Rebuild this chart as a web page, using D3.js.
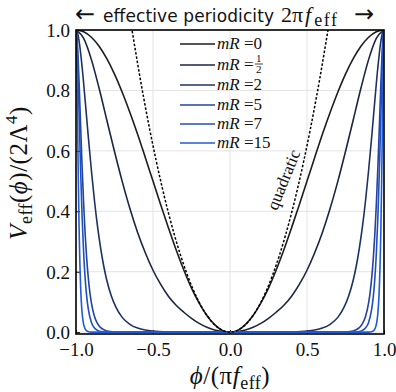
<!DOCTYPE html>
<html>
<head>
<meta charset="utf-8">
<script src="https://cdn.jsdelivr.net/npm/d3@7"></script>
<style>
body { margin: 0; background: #fff; }
svg { display: block; }
</style>
</head>
<body>
<div id="chart"></div>
<script>
// ticks
var xTicks = [-1.0, -0.5, 0.0, 0.5, 1.0];
var yTicks = [0.0, 0.2, 0.4, 0.6, 0.8, 1.0];

// legend entries, in drawing order
var mRNames = ["0", "1/2", "2", "5", "7", "15"];
var lineColors = ["#1c1c22", "#1c2642", "#1e3262", "#2244a0", "#214fba", "#1f5ad8"];

// phi/(pi f_eff) and V_eff/(2 Lambda^4)
var phi_mR0 = [-1, -0.95, -0.9, -0.85, -0.8, -0.75, -0.7, -0.65, -0.6, -0.55, -0.5, -0.45, -0.4, -0.35, -0.3, -0.25, -0.2, -0.15, -0.1, -0.05,
	0, 0.05, 0.1, 0.15, 0.2, 0.25, 0.3, 0.35, 0.4, 0.45, 0.5, 0.55, 0.6, 0.65, 0.7, 0.75, 0.8, 0.85, 0.9, 0.95, 1];
var V_mR0 = [1, 0.994, 0.976, 0.946, 0.905, 0.854, 0.794, 0.727, 0.655, 0.578, 0.5, 0.422, 0.346, 0.273, 0.206, 0.146, 0.096, 0.055, 0.025, 0.006,
	0, 0.006, 0.025, 0.055, 0.096, 0.146, 0.206, 0.273, 0.346, 0.422, 0.5, 0.578, 0.655, 0.727, 0.794, 0.854, 0.905, 0.946, 0.976, 0.994, 1];

var phi_mR05 = [-1, -0.95, -0.9, -0.85, -0.8, -0.75, -0.7, -0.65, -0.6, -0.55, -0.5, -0.45, -0.4, -0.35, -0.3, -0.25, -0.2, -0.15, -0.1, -0.05,
	0, 0.05, 0.1, 0.15, 0.2, 0.25, 0.3, 0.35, 0.4, 0.45, 0.5, 0.55, 0.6, 0.65, 0.7, 0.75, 0.8, 0.85, 0.9, 0.95, 1];
var V_mR05 = [1, 0.972, 0.902, 0.807, 0.702, 0.598, 0.499, 0.409, 0.330, 0.263, 0.205, 0.158, 0.119, 0.089, 0.066, 0.046, 0.029, 0.016, 0.007, 0.002,
	0, 0.002, 0.007, 0.016, 0.029, 0.046, 0.066, 0.089, 0.119, 0.158, 0.205, 0.263, 0.330, 0.409, 0.499, 0.598, 0.702, 0.807, 0.902, 0.972, 1];

var phi_mR2 = [-1, -0.99, -0.98, -0.96, -0.94, -0.92, -0.9, -0.88, -0.86, -0.84, -0.82, -0.8, -0.77, -0.74, -0.7, -0.65, -0.6, -0.55, -0.5, -0.4, -0.3,
	0, 0.3, 0.4, 0.5, 0.55, 0.6, 0.65, 0.7, 0.74, 0.77, 0.8, 0.82, 0.84, 0.86, 0.88, 0.9, 0.92, 0.94, 0.96, 0.98, 0.99, 1];
var V_mR2 = [1, 0.990, 0.964, 0.876, 0.764, 0.646, 0.535, 0.435, 0.349, 0.278, 0.219, 0.172, 0.119, 0.082, 0.049, 0.026, 0.0135, 0.0071, 0.0037, 0.001, 0.0003,
	0, 0.0003, 0.001, 0.0037, 0.0071, 0.0135, 0.026, 0.049, 0.082, 0.119, 0.172, 0.219, 0.278, 0.349, 0.435, 0.535, 0.646, 0.764, 0.876, 0.964, 0.990, 1];

var phi_mR5 = [-1, -0.995, -0.99, -0.98, -0.97, -0.96, -0.95, -0.94, -0.93, -0.92, -0.91, -0.9, -0.88, -0.86, -0.84, -0.8, -0.75, -0.7,
	0, 0.7, 0.75, 0.8, 0.84, 0.86, 0.88, 0.9, 0.91, 0.92, 0.93, 0.94, 0.95, 0.96, 0.97, 0.98, 0.99, 0.995, 1];
var V_mR5 = [1, 0.985, 0.947, 0.827, 0.682, 0.543, 0.421, 0.320, 0.240, 0.179, 0.132, 0.097, 0.052, 0.028, 0.015, 0.004, 0.0008, 0.0002,
	0, 0.0002, 0.0008, 0.004, 0.015, 0.028, 0.052, 0.097, 0.132, 0.179, 0.240, 0.320, 0.421, 0.543, 0.682, 0.827, 0.947, 0.985, 1];

var phi_mR7 = [-1, -0.995, -0.99, -0.98, -0.97, -0.96, -0.95, -0.94, -0.93, -0.92, -0.9, -0.88, -0.86, -0.83, -0.8,
	0, 0.8, 0.83, 0.86, 0.88, 0.9, 0.92, 0.93, 0.94, 0.95, 0.96, 0.97, 0.98, 0.99, 0.995, 1];
var V_mR7 = [1, 0.974, 0.910, 0.726, 0.536, 0.378, 0.259, 0.174, 0.115, 0.076, 0.032, 0.014, 0.006, 0.0016, 0.0005,
	0, 0.0005, 0.0016, 0.006, 0.014, 0.032, 0.076, 0.115, 0.174, 0.259, 0.378, 0.536, 0.726, 0.910, 0.974, 1];

var phi_mR15 = [-1, -0.995, -0.99, -0.985, -0.98, -0.975, -0.97, -0.965, -0.96, -0.955, -0.95, -0.94, -0.93, -0.92, -0.9,
	0, 0.9, 0.92, 0.93, 0.94, 0.95, 0.955, 0.96, 0.965, 0.97, 0.975, 0.98, 0.985, 0.99, 0.995, 1];
var V_mR15 = [1, 0.901, 0.703, 0.506, 0.347, 0.231, 0.151, 0.097, 0.062, 0.040, 0.025, 0.010, 0.004, 0.0016, 0.0003,
	0, 0.0003, 0.0016, 0.004, 0.010, 0.025, 0.040, 0.062, 0.097, 0.151, 0.231, 0.347, 0.506, 0.703, 0.901, 1];

// dotted quadratic approximation
var phi_quad = [-0.64, -0.56, -0.48, -0.4, -0.32, -0.24, -0.16, -0.08, 0, 0.08, 0.16, 0.24, 0.32, 0.4, 0.48, 0.56, 0.64];
var V_quad = [1.011, 0.774, 0.569, 0.395, 0.253, 0.142, 0.063, 0.016, 0, 0.016, 0.063, 0.142, 0.253, 0.395, 0.569, 0.774, 1.011];

var curves = [
	[phi_mR0, V_mR0],
	[phi_mR05, V_mR05],
	[phi_mR2, V_mR2],
	[phi_mR5, V_mR5],
	[phi_mR7, V_mR7],
	[phi_mR15, V_mR15]
];

var w = 396;
var h = 392;
var plotL = 76, plotR = 384, plotT = 30, plotB = 334;

var xScale = d3.scaleLinear().domain([-1, 1]).range([plotL, plotR]);
var yScale = d3.scaleLinear().domain([-0.006, 1]).range([plotB, plotT]);

var serif = "'Liberation Serif', 'DejaVu Serif', serif";
var sans = "'DejaVu Sans', sans-serif";

var svg = d3.select("#chart")
	.append("svg")
	.attr("width", w)
	.attr("height", h);

svg.append("defs").append("clipPath")
	.attr("id", "plotclip")
	.append("rect")
	.attr("x", plotL)
	.attr("y", plotT)
	.attr("width", plotR - plotL)
	.attr("height", plotB - plotT);

// grid
var grid = svg.append("g").attr("id", "grid");
grid.selectAll("line.gx")
	.data(xTicks)
	.enter().append("line")
	.attr("class", "gx")
	.attr("x1", function (d) { return xScale(d); })
	.attr("x2", function (d) { return xScale(d); })
	.attr("y1", plotT)
	.attr("y2", plotB)
	.attr("stroke", "#e3e3e3")
	.attr("stroke-width", 1);
grid.selectAll("line.gy")
	.data(yTicks)
	.enter().append("line")
	.attr("class", "gy")
	.attr("x1", plotL)
	.attr("x2", plotR)
	.attr("y1", function (d) { return yScale(d); })
	.attr("y2", function (d) { return yScale(d); })
	.attr("stroke", "#e3e3e3")
	.attr("stroke-width", 1);

// axes, ticks pointing inward
var xAxis = d3.axisBottom(xScale)
	.tickValues(xTicks)
	.tickSize(-4)
	.tickFormat(function (d) { return d3.format(".1f")(d).replace("-", "\u2212"); });
var yAxis = d3.axisLeft(yScale)
	.tickValues(yTicks)
	.tickSize(-4)
	.tickFormat(d3.format(".1f"));

var gx = svg.append("g")
	.attr("transform", "translate(0," + plotB + ")")
	.call(xAxis);
gx.select(".domain").remove();
gx.selectAll("text")
	.attr("y", 22)
	.attr("dy", 0)
	.attr("font-family", serif)
	.attr("font-size", 19)
	.attr("fill", "#111");

var gy = svg.append("g")
	.attr("transform", "translate(" + plotL + ",0)")
	.call(yAxis);
gy.select(".domain").remove();
gy.selectAll("text")
	.attr("x", -6)
	.attr("dy", "0.34em")
	.attr("font-family", serif)
	.attr("font-size", 19)
	.attr("fill", "#111");
svg.selectAll(".tick line").attr("stroke", "#000").attr("stroke-width", 1);

// curves
var line = d3.line()
	.x(function (d) { return xScale(d[0]); })
	.y(function (d) { return yScale(d[1]); })
	.curve(d3.curveMonotoneX);

var plot = svg.append("g").attr("clip-path", "url(#plotclip)");

plot.selectAll("path.curve")
	.data(curves)
	.enter().append("path")
	.attr("class", "curve")
	.attr("d", function (c) { return line(d3.zip(c[0], c[1])); })
	.attr("fill", "none")
	.attr("stroke", function (c, i) { return lineColors[i]; })
	.attr("stroke-width", 1.6);

plot.append("path")
	.attr("d", line(d3.zip(phi_quad, V_quad)))
	.attr("fill", "none")
	.attr("stroke", "#000")
	.attr("stroke-width", 1.5)
	.attr("stroke-dasharray", "2.5,1.8");

svg.append("text")
	.attr("transform", "translate(284,180) rotate(-68)")
	.attr("text-anchor", "middle")
	.attr("dy", "0.3em")
	.attr("font-family", serif)
	.attr("font-size", 17)
	.attr("fill", "#111")
	.text("quadratic");

// frame
svg.append("rect")
	.attr("x", plotL)
	.attr("y", plotT)
	.attr("width", plotR - plotL)
	.attr("height", plotB - plotT)
	.attr("fill", "none")
	.attr("stroke", "#000")
	.attr("stroke-width", 1.6);

// legend
var legendY = [44, 65, 85, 105, 124, 143];
var legend = svg.append("g").attr("id", "legend");
mRNames.forEach(function (name, i) {
	legend.append("line")
		.attr("x1", 180).attr("x2", 215)
		.attr("y1", legendY[i]).attr("y2", legendY[i])
		.attr("stroke", lineColors[i])
		.attr("stroke-width", 1.6);
	var t = legend.append("text")
		.attr("x", 217)
		.attr("y", legendY[i] + 5)
		.attr("font-family", serif)
		.attr("font-size", 17)
		.attr("fill", "#111");
	t.append("tspan").attr("font-style", "italic").text("mR");
	if (name.indexOf("/") < 0) {
		t.append("tspan").text(" =" + name);
	} else {
		var parts = name.split("/");
		t.append("tspan").text(" =");
		t.append("tspan").attr("x", 256).attr("dy", -8).attr("font-size", 11).text(parts[0]);
		t.append("tspan").attr("x", 256).attr("dy", 11).attr("font-size", 11).text(parts[1]);
		legend.append("line")
			.attr("x1", 255).attr("x2", 263)
			.attr("y1", legendY[i] - 1).attr("y2", legendY[i] - 1)
			.attr("stroke", "#111").attr("stroke-width", 0.8);
	}
});

// title, pieces placed along the top edge
svg.append("text")
	.attr("x", 75).attr("y", 22)
	.attr("font-family", sans).attr("font-size", 24).attr("fill", "#111")
	.text("\u2190");
svg.append("text")
	.attr("x", 103).attr("y", 22)
	.attr("font-family", sans).attr("font-size", 17).attr("fill", "#111")
	.attr("textLength", 171).attr("lengthAdjust", "spacing")
	.text("effective periodicity");
var tmath = svg.append("text")
	.attr("x", 281).attr("y", 22)
	.attr("font-family", serif).attr("font-size", 22).attr("fill", "#111");
tmath.append("tspan").text("2\u03c0");
tmath.append("tspan").attr("dx", 2).attr("font-style", "italic").text("f");
tmath.append("tspan").attr("dx", 3).attr("font-size", 18).attr("dy", 4).attr("letter-spacing", 1.5).text("eff");
svg.append("text")
	.attr("x", 354).attr("y", 22)
	.attr("font-family", sans).attr("font-size", 24).attr("fill", "#111")
	.text("\u2192");

// x label
var xl = svg.append("text")
	.attr("x", 230)
	.attr("y", 384)
	.attr("text-anchor", "middle")
	.attr("font-family", serif)
	.attr("font-size", 25)
	.attr("letter-spacing", 0.5)
	.attr("fill", "#111");
xl.append("tspan").attr("font-style", "italic").text("\u03d5");
xl.append("tspan").text("/(\u03c0");
xl.append("tspan").attr("font-style", "italic").text("f");
xl.append("tspan").attr("font-size", 18).attr("dy", 5).text("eff");
xl.append("tspan").attr("dy", -5).text(")");

// y label
var yl = svg.append("text")
	.attr("transform", "translate(27,173) rotate(-90)")
	.attr("text-anchor", "middle")
	.attr("font-family", serif)
	.attr("font-size", 25)
	.attr("letter-spacing", 0.5)
	.attr("fill", "#111");
yl.append("tspan").attr("font-style", "italic").text("V");
yl.append("tspan").attr("font-size", 18).attr("dy", 5).text("eff");
yl.append("tspan").attr("dy", -5).text("(");
yl.append("tspan").attr("font-style", "italic").text("\u03d5");
yl.append("tspan").text(")/(2\u039b");
yl.append("tspan").attr("font-size", 17).attr("dy", -10).text("4");
yl.append("tspan").attr("dy", 10).text(")");
</script>
</body>
</html>
